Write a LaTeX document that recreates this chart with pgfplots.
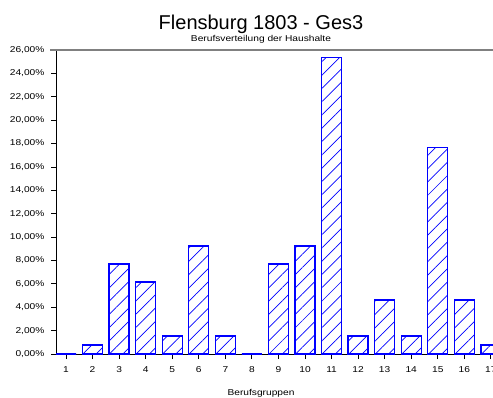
\documentclass[border=0pt]{standalone}
\usepackage{fontspec}
\setmainfont{Liberation Sans}
\newfontfamily\smallf[FakeStretch=1.2]{Liberation Sans}
\usepackage{pgfplots}
\pgfplotsset{compat=1.18}
\usetikzlibrary{patterns.meta}
\pgfplotstableread{
x y
1 0
2 0.77
3 7.69
4 6.15
5 1.54
6 9.23
7 1.54
8 0
9 7.69
10 9.23
11 25.38
12 1.54
13 4.62
14 1.54
15 17.69
16 4.62
17 0.77
}\datatable
\begin{document}
\begin{tikzpicture}[x=1bp,y=1bp]
\useasboundingbox (-56,-43) rectangle (437,354);
\begin{axis}[
  scale only axis, width=437bp, height=304bp,
  at={(0,0)}, anchor=south west,
  xmin=0.623, xmax=17.08, ymin=0, ymax=26,
  axis x line*=bottom, axis y line*=left,
  axis line style={black, line width=0.9bp},
  x axis line style={draw=none},
  ytick={0,2,...,26}, xtick={1,...,17},
  tick align=outside, major tick length=5bp,
  tick style={black, line width=0.8bp},
  /pgf/number format/assume math mode=true,
  ticklabel style={font=\fontsize{8.5bp}{10bp}\smallf},
  yticklabel style={xshift=-3bp},
  xticklabel style={yshift=-4bp},
  yticklabel={\pgfmathprintnumber[fixed, fixed zerofill, precision=2, use comma]{\tick}\%},
  ybar, bar width=20bp, bar shift=0pt, clip=false,
]
\draw[black, line width=0.9bp] (rel axis cs:0,0) -- (rel axis cs:1,0);
\addplot[draw=none, pattern={Lines[angle=45, distance=9.4bp, line width=0.7bp]}, pattern color=blue] table[x=x,y=y] {\datatable};
\addplot[ybar, draw=blue, fill=none, line width=1.3bp] table[x=x,y=y] {\datatable};
\end{axis}
\draw[gray, line width=1.2bp] (-6,304) -- (437,304);
\node[anchor=base, inner sep=0pt, font=\fontsize{20bp}{24bp}\selectfont] at (205,325) {Flensburg 1803 - Ges3};
\node[anchor=base, inner sep=0pt, font=\fontsize{8.5bp}{10bp}\smallf] at (205,313) {Berufsverteilung der Haushalte};
\node[anchor=base, inner sep=0pt, font=\fontsize{8.5bp}{10bp}\smallf] at (205,-41) {Berufsgruppen};
\end{tikzpicture}
\end{document}
